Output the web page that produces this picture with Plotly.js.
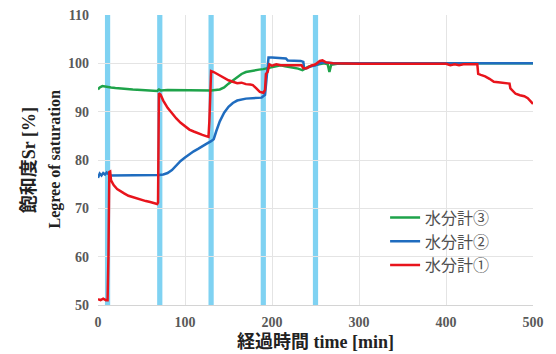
<!DOCTYPE html>
<html><head><meta charset="utf-8">
<script src="https://cdn.plot.ly/plotly-3.0.1.min.js"></script>
<style>html,body{margin:0;padding:0;background:#fff}#chart{width:556px;height:354px}</style>
</head><body><div id="chart"></div>
<script>
// Series names
const seriesNames = ['水分計③', '水分計②', '水分計①'];
// Water-supply periods (blue bands), minutes
const bandStart = [8, 68, 127, 187, 247];
const bandEnd   = [14, 74, 133, 193, 253];

// 水分計③ (green)
const t3 = [0,2,5,10,15,20,30,40,50,60,68,70,72,80,90,100,110,120,130,140,145,150,155,160,165,170,175,180,185,190,195,200,205,210,215,220,225,230,235,238,242,248,255,260,264,266,268,275,290,300,400,500];
const s3 = [94.6,95.0,95.3,95.1,95.0,94.9,94.7,94.6,94.5,94.4,94.3,94.6,94.4,94.5,94.5,94.4,94.4,94.4,94.4,94.6,95.0,95.8,96.5,97.2,97.8,98.2,98.4,98.5,98.7,98.8,99.0,99.3,99.5,99.6,99.4,99.3,99.1,98.9,98.6,98.9,99.3,99.6,99.9,100.0,99.8,98.2,99.7,99.9,99.9,100.0,100.0,100.0];

// 水分計② (blue)
const t2 = [0,2,4,6,8,10,14,20,30,40,50,60,70,75,80,85,90,95,100,105,110,115,120,125,130,133,136,140,145,150,155,160,170,180,188,192,194,196,200,210,216,218,225,233,236,237,240,245,250,255,260,270,350,500];
const s2 = [76.3,77.2,76.8,77.3,77.0,77.4,76.8,76.8,76.9,76.8,76.9,76.9,76.9,77.0,77.3,77.9,78.9,79.8,80.5,81.2,81.8,82.3,82.9,83.4,83.9,84.3,86.0,88.0,89.8,91.0,91.8,92.3,92.7,92.8,92.9,93.5,98.0,101.2,101.2,101.0,101.0,100.6,100.6,100.5,100.3,98.9,99.0,99.4,99.6,100.0,100.2,100.0,100.0,100.0];

// 水分計① (red)
const t1 = [0,3,6,9,11,12,13,14,15,18,22,26,30,35,40,45,50,55,60,65,68,69,70,72,75,80,85,90,95,100,105,110,115,120,125,127,128,130,133,137,140,145,150,155,160,165,170,175,178,182,186,190,192,193,195,197,200,205,210,220,230,234,236,240,245,250,255,258,262,270,300,350,400,405,410,415,420,436,437,440,445,450,455,460,465,470,473,474,478,480,485,490,494,497,500];
const s1 = [51.2,51.0,51.3,51.0,51.0,60.0,77.5,77.6,75.8,74.8,74.0,73.5,73.1,72.6,72.3,72.0,71.7,71.5,71.3,71.0,70.9,71.2,93.8,93.5,92.3,90.8,89.6,88.6,87.7,87.0,86.3,85.9,85.5,85.2,84.9,84.8,88.0,98.4,98.2,97.8,97.4,96.9,96.5,96.2,95.9,96.0,95.7,95.6,95.5,94.8,94.1,93.9,94.5,97.8,98.2,99.8,99.5,99.8,99.6,99.6,99.5,99.6,99.0,99.0,99.5,99.8,100.5,100.6,100.2,100.0,99.9,99.9,99.9,99.6,99.8,99.6,99.8,99.8,97.8,97.6,97.3,96.8,96.2,96.1,96.0,95.9,95.8,94.8,94.0,93.7,93.4,93.2,92.8,92.2,91.6];

const xTicks = [0,100,200,300,400,500];
const yTicks = [50,60,70,80,90,100,110];

const colors = ['#1ea34a', '#1f6cbf', '#e8141c'];
const traces = [
  {x: t3, y: s3, name: seriesNames[0]},
  {x: t2, y: s2, name: seriesNames[1]},
  {x: t1, y: s1, name: seriesNames[2]}
].map((tr, i) => Object.assign(tr, {type: 'scatter', mode: 'lines', line: {color: colors[i], width: 2.5}}));

const shapes = bandStart.map((s, i) => ({
  type: 'rect', xref: 'x', yref: 'paper', x0: s, x1: bandEnd[i], y0: 0, y1: 1,
  fillcolor: '#7fd2f2', line: {width: 0}, layer: 'below'
}));

const tickFont = {family: 'Liberation Serif, serif', size: 14, color: '#595959'};
const layout = {
  width: 556, height: 354,
  margin: {l: 98, r: 23, t: 15, b: 49},
  paper_bgcolor: '#fff', plot_bgcolor: '#fff',
  showlegend: true,
  legend: {x: 0.66, y: 0.36, xanchor: 'left', yanchor: 'top', bgcolor: 'rgba(0,0,0,0)',
           font: {family: 'Noto Sans CJK JP, sans-serif', size: 16, color: '#505050'},
           tracegroupgap: 0, itemwidth: 30},
  xaxis: {range: [0, 500], tickvals: xTicks, ticktext: xTicks.map(v => '<b>' + v + '</b>'),
          showgrid: true, gridcolor: '#e4e4e4', zeroline: false, showline: true, linecolor: '#d4d4d4',
          ticks: '', tickfont: tickFont, ticklabelstandoff: 4,
          title: {text: '<b>経過時間 time [min]</b>', standoff: 6,
                  font: {family: 'Liberation Serif, Noto Sans CJK JP, serif', size: 18, color: '#222'}}},
  yaxis: {range: [50, 110], tickvals: yTicks, ticktext: yTicks.map(v => '<b>' + v + '</b>'),
          showgrid: true, gridcolor: '#e4e4e4', zeroline: false, showline: false,
          ticks: '', tickfont: tickFont, ticklabelstandoff: 8},
  shapes: shapes,
  annotations: [
    {text: '<b>飽和度Sr [%]</b>', xref: 'paper', yref: 'paper', x: -0.158, y: 0.5, xanchor: 'center', yanchor: 'middle',
     textangle: -90, showarrow: false, font: {family: 'Liberation Serif, Noto Sans CJK JP, serif', size: 18, color: '#222'}},
    {text: '<b>Legree of saturation</b>', xref: 'paper', yref: 'paper', x: -0.1, y: 0.5, xanchor: 'center', yanchor: 'middle',
     textangle: -90, showarrow: false, font: {family: 'Liberation Serif, serif', size: 16, color: '#222'}}
  ]
};
Plotly.newPlot('chart', traces, layout, {staticPlot: true, displayModeBar: false});
</script></body></html>
